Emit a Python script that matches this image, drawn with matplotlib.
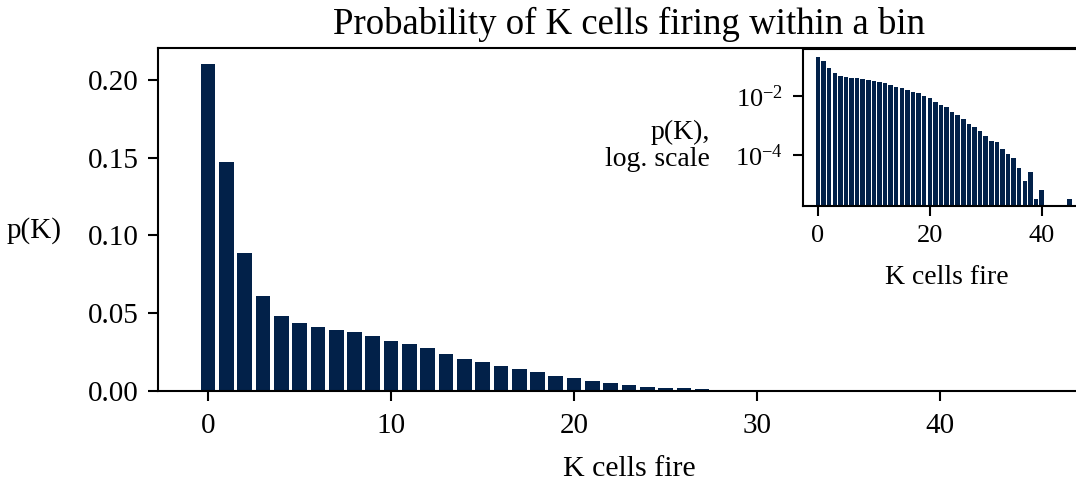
import numpy as np
import matplotlib
matplotlib.use('Agg')
import matplotlib.pyplot as plt

plt.rcParams['font.family'] = ['Liberation Serif', 'DejaVu Serif']
plt.rcParams['mathtext.fontset'] = 'dejavuserif'

# number of cells firing together in one bin
k_cells = np.arange(0, 47)
p_k = [0.210, 0.147, 0.0888, 0.0609, 0.0481, 0.0438, 0.0412, 0.0391, 0.0378, 0.0354,
       0.0324, 0.0300, 0.0275, 0.0240, 0.0206, 0.0187, 0.0163, 0.0139, 0.0120, 0.0099,
       0.0083, 0.0064, 0.0050, 0.0041, 0.0029, 0.0022, 0.00165, 0.00115, 0.00091, 0.000665,
       0.000451, 0.000298, 0.000283, 0.000156, 0.000108, 7.7e-5, 3.65e-5, 1.29e-5, 2.6e-5, 3.2e-6,
       6.4e-6, 0, 0, 0, 0, 3.2e-6, 0]

bar_color = '#022149'

fig = plt.figure(figsize=(10.76, 4.84), dpi=100)
ax = fig.add_axes([0.1468, 0.1921, 0.8755, 0.7087])
ax.bar(k_cells, p_k, color=bar_color, width=0.8)
ax.set_title('Probability of K cells firing within a bin', fontsize=26.5, pad=10)
ax.set_xlabel('K cells fire', fontsize=21.5, labelpad=12)
ax.set_ylabel('p(K)', fontsize=21, rotation=0, ha='right', va='center')
ax.yaxis.set_label_coords(-0.102, 0.469)
ax.set_xticks([0, 10, 20, 30, 40])
ax.set_yticks([0.0, 0.05, 0.10, 0.15, 0.20])
ax.yaxis.set_major_formatter(matplotlib.ticker.FormatStrFormatter('%.2f'))
ax.tick_params(labelsize=21, width=1.5, length=7, pad=7)
ax.tick_params(axis='x', pad=9)
for s in ax.spines.values():
    s.set_linewidth(1.5)

# inset with log scale
axin = fig.add_axes([0.746, 0.575, 0.2674, 0.3231])
axin.bar(k_cells, p_k, color=bar_color, width=0.8)
axin.set_yscale('log')
axin.set_ylim(10**-5.71, 10**-0.43)
axin.set_xlim(ax.get_xlim())
axin.set_xticks([0, 20, 40])
axin.set_yticks([1e-2, 1e-4])
axin.minorticks_off()
axin.set_xlabel('K cells fire', fontsize=20, labelpad=13)
axin.set_ylabel('p(K),\nlog. scale', fontsize=20, rotation=0, ha='right', va='center',
                multialignment='right', linespacing=1.1)
axin.yaxis.set_label_coords(-0.322, 0.382)
axin.tick_params(labelsize=19, width=1.5, length=7, pad=7)
for s in axin.spines.values():
    s.set_linewidth(1.5)

fig.savefig('out.png', dpi=100)
